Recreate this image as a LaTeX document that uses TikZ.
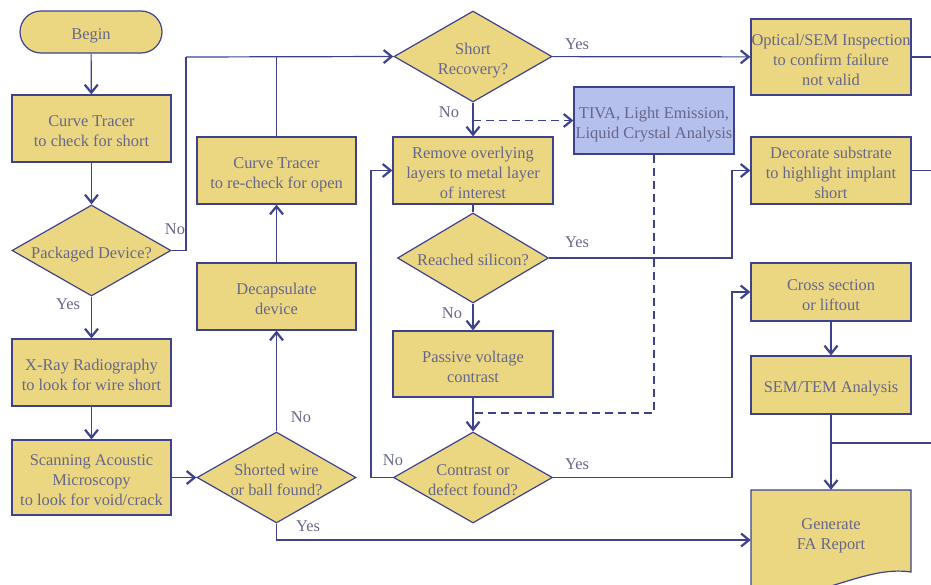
\documentclass[tikz,border=0pt]{standalone}
\usepackage{fontspec}
\setmainfont{Liberation Serif}
\usetikzlibrary{shapes.geometric,arrows.meta}
\definecolor{fcfill}{RGB}{235,215,130}
\definecolor{fcblue}{RGB}{182,192,236}
\definecolor{fcline}{RGB}{62,66,140}
\definecolor{fctext}{RGB}{102,102,138}
\tikzset{
  font={\fontsize{16.4pt}{20pt}\selectfont},
  boxtext/.style={align=center, text depth=0pt, text height=15pt},
  two/.style={text height=36pt},
  three/.style={text height=56pt},
  box/.style={draw=fcline, fill=fcfill, text=fctext, line width=1.2pt, boxtext,
    inner sep=0pt, minimum width=159pt, minimum height=67pt},
  test/.style={box, shape=diamond, aspect=1.75, minimum height=91pt},
  wire/.style={draw=fcline, line width=1.2pt},
  link/.style={wire, -{Straight Barb[length=8pt,width=13pt,line width=2.2pt]}},
  dline/.style={wire, dash pattern=on 8pt off 5pt},
  lbl/.style={text=fctext, inner sep=1pt}}

\begin{document}
\begin{tikzpicture}[x=1pt, y=-1pt]
\useasboundingbox (0,0) rectangle (931,584);
\clip (0,0) rectangle (931,584);
\node[box, rounded corners=21pt, minimum width=142pt, minimum height=42pt] (begin) at (91,32) {Begin};
\node[box, two] (tracer) at (91.5,128.5) {Curve Tracer\\to check for short};
\node[test] (pkg) at (91.5,250.5) {Packaged Device?};
\node[box, two] (xray) at (91.5,372.5) {X-Ray Radiography\\to look for wire short};
\node[box, three, minimum height=75pt] (sam) at (91.5,477.5) {Scanning Acoustic\\Microscopy\\to look for void/crack};
\node[test, two] (shorted) at (276.5,477.5) {Shorted wire\\or ball found?};
\node[box, two] (decap) at (276.5,296.5) {Decapsulate\\device};
\node[box, two] (recheck) at (276.5,170.5) {Curve Tracer\\to re-check for open};
\node[test, two, minimum width=158pt] (shortrec) at (473,56.5) {Short\\Recovery?};
\node[box, three, minimum width=160pt] (remove) at (473,170.5) {Remove overlying\\layers to metal layer\\of interest};
\node[test, minimum width=151pt, minimum height=90pt] (silicon) at (473,258) {Reached silicon?};
\node[box, two, minimum width=160pt, minimum height=66pt] (pvc) at (473,364) {Passive voltage\\contrast};
\node[test, two] (contrast) at (473,477.5) {Contrast or\\defect found?};
\node[box, two, fill=fcblue, minimum width=160pt] (tiva) at (654,120.5) {TIVA, Light Emission,\\Liquid Crystal Analysis};
\node[box, three, minimum width=160pt, minimum height=76pt] (optical) at (831,57) {Optical/SEM Inspection\\to confirm failure\\not valid};
\node[box, three, minimum width=160pt] (decorate) at (831,170.5) {Decorate substrate\\to highlight implant\\short};
\node[box, two, minimum width=160pt, minimum height=58pt] (xsect) at (831,292) {Cross section\\or liftout};
\node[box, minimum width=160pt, minimum height=58pt] (semtem) at (831,385) {SEM/TEM Analysis};
\path[draw=fcline, fill=fcfill, line width=1.2pt] (751,490) -- (911,490) -- (911,572)
  .. controls (865,565) and (820,600) .. (751,600) -- cycle;
\node[lbl, boxtext, two, minimum width=160pt, minimum height=82pt] (report) at (831,531) {Generate\\FA Report};
\coordinate (busL) at (186,57);
\coordinate (loopL) at (371,170.5);
\coordinate (jog) at (732,0);
\coordinate (dashjoin) at (473,413);
\coordinate (merge) at (831,443);
\draw[link] (begin) -- (tracer);
\draw[link] (tracer) -- (pkg);
\draw[link] (pkg) -- (xray);
\draw[link] (xray) -- (sam);
\draw[link] (sam) -- (shorted);
\draw[link] (shorted) -- (decap);
\draw[link] (decap) -- (recheck);
\draw[wire] (pkg.east) -| (busL);
\draw[link] (busL) -- (shortrec.west);
\draw[wire] (recheck.north) -- (recheck.north |- busL);
\draw[link] (shorted.south) |- ([yshift=-9pt]report.west);
\draw[link] (shortrec) -- (optical);
\draw[link] (shortrec) -- (remove);
\draw[link, dash pattern=on 8pt off 5pt] (shortrec.south |- tiva.west) -- (tiva.west);
\draw[wire] (remove) -- (silicon);
\draw[link] (silicon.east) -| (jog |- decorate.west) -- (decorate.west);
\draw[link] (silicon) -- (pvc);
\draw[link] (pvc) -- (contrast);
\draw[dline] (tiva.south) |- (dashjoin);
\draw[link] (contrast.west) -| (loopL) -- (remove.west);
\draw[link] (contrast.east) -| (jog |- xsect.west) -- (xsect.west);
\draw[link] (xsect) -- (semtem);
\draw[link] (semtem.south) -- (report.north);
\draw[wire] (optical.east) -- +(40,0);
\draw[wire] (decorate.east) -- +(40,0);
\draw[wire] (960,443) -- (merge);
\node[lbl] (no1) at (175,229) {No};
\node[lbl] (yes1) at (68,304) {Yes};
\node[lbl] (no2) at (301,417) {No};
\node[lbl] (yes2) at (308,526) {Yes};
\node[lbl] (yes3) at (577,44) {Yes};
\node[lbl] (no3) at (449,112) {No};
\node[lbl] (yes4) at (577,242) {Yes};
\node[lbl] (no4) at (452,313) {No};
\node[lbl] (no5) at (393,460) {No};
\node[lbl] (yes5) at (577,464) {Yes};
\end{tikzpicture}
\end{document}
